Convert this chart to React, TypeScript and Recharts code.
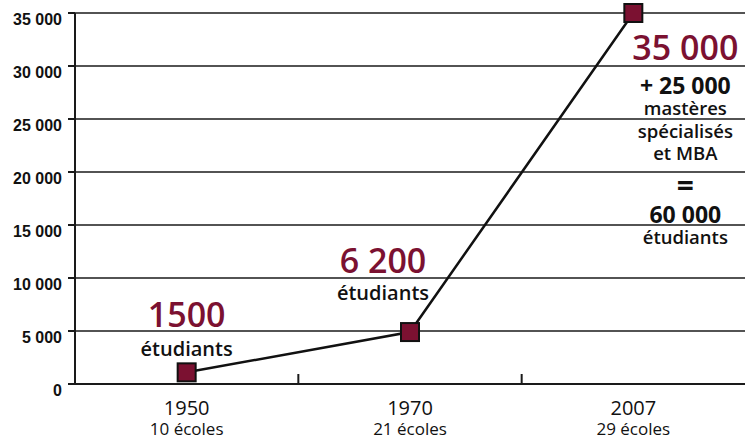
import { CartesianGrid, Line, LineChart, XAxis, YAxis } from "recharts"

const years = ["1950", "1970", "2007"]
const schools = ["10 écoles", "21 écoles", "29 écoles"]
const students = [1100, 4900, 35000]
const yTicks = [0, 5000, 10000, 15000, 20000, 25000, 30000, 35000]
const headlines = ["1500", "6 200", "35 000"]
const notes = [
  ["étudiants"],
  ["étudiants"],
  ["+ 25 000", "mastères", "spécialisés", "et MBA", "=", "60 000", "étudiants"],
]

const data = years.map((year, i) => ({ year, students: students[i] }))

// separator ticks between the year bands, on an index axis spanning [0, n-1]
const n = years.length
const bandEdges = years.slice(1).map((_, k) => ((k + 1) * (n - 1)) / n)

const MAROON = "#7b1131"
const INK = "#1a1a1a"
const SANS = "'Open Sans', 'DejaVu Sans', sans-serif"

// where the annotation text sits relative to each marker (dx, baseline dy)
const headPos = [
  { dx: 0, dy: -45 },
  { dx: -27, dy: -59 },
  { dx: 52, dy: 47 },
]
const noteLayout = [
  [{ dy: -16, size: 20, weight: 600 }],
  [{ dy: -32, size: 20, weight: 600 }],
  [
    { dy: 81, size: 23, weight: 700 },
    { dy: 102, size: 18.5, weight: 600 },
    { dy: 125, size: 18.5, weight: 600 },
    { dy: 147, size: 18.5, weight: 600 },
    { dy: 183, size: 30, weight: 700 },
    { dy: 210, size: 23, weight: 700 },
    { dy: 231, size: 18.5, weight: 600 },
  ],
]

const fmt = (v: number) => String(v).replace(/\B(?=(\d{3})+(?!\d))/g, " ")

function Marker(props: any) {
  const { cx, cy, index } = props
  const h = headPos[index]
  return (
    <g key={`m-${index}`}>
      <rect x={cx - 9} y={cy - 9} width={18} height={18} fill={MAROON} stroke="#111" strokeWidth={2} />
      <text
        x={cx + h.dx}
        y={cy + h.dy}
        textAnchor="middle"
        fontFamily={SANS}
        fontSize={34}
        fontWeight={600}
        fill={MAROON}
      >
        {headlines[index]}
      </text>
      {notes[index].map((line, j) => {
        const l = noteLayout[index][j]
        return (
          <text
            key={j}
            x={cx + h.dx}
            y={cy + l.dy}
            textAnchor="middle"
            fontFamily={SANS}
            fontSize={l.size}
            fontWeight={l.weight}
            fill="#111"
          >
            {line}
          </text>
        )
      })}
    </g>
  )
}

function YearTick(props: any) {
  const { x, y, payload } = props
  return (
    <g>
      <text x={x} y={y + 31} textAnchor="middle" fontFamily={SANS} fontSize={20} fontWeight={500} fill="#111">
        {payload.value}
      </text>
      <text x={x} y={y + 51} textAnchor="middle" fontFamily={SANS} fontSize={17} fontWeight={500} fill="#111">
        {schools[payload.index]}
      </text>
    </g>
  )
}

function ValueTick(props: any) {
  const { x, y, payload } = props
  return (
    <text
      x={x}
      y={y + 12}
      textAnchor="end"
      fontFamily="'Liberation Sans', Arial, sans-serif"
      fontSize={16}
      fontWeight={700}
      fill="#111"
    >
      {fmt(payload.value)}
    </text>
  )
}

const NoLabel = () => <g />

export default function App() {
  return (
    <div style={{ position: "absolute", left: 0, top: 0, background: "#fff" }}>
      <LineChart width={745} height={439} data={data} margin={{ top: 13, right: 0, bottom: 0, left: 0 }}>
        <CartesianGrid vertical={false} stroke={INK} strokeWidth={1.5} />
        <XAxis
          xAxisId="edges"
          type="number"
          domain={[0, n - 1]}
          allowDataOverflow
          ticks={bandEdges}
          interval={0}
          mirror
          height={1}
          tick={<NoLabel />}
          tickSize={10}
          tickLine={{ stroke: INK, strokeWidth: 2 }}
          axisLine={false}
        />
        <XAxis
          dataKey="year"
          scale="band"
          height={55}
          tick={<YearTick />}
          tickLine={false}
          tickSize={0}
          tickMargin={0}
          axisLine={{ stroke: INK, strokeWidth: 2 }}
          interval={0}
        />
        <YAxis
          width={75}
          domain={[0, 35000]}
          ticks={yTicks}
          interval={0}
          tickSize={7}
          tickMargin={6}
          tick={<ValueTick />}
          tickLine={{ stroke: INK, strokeWidth: 2 }}
          axisLine={{ stroke: INK, strokeWidth: 2 }}
        />
        <Line
          dataKey="students"
          stroke="#111"
          strokeWidth={2.5}
          dot={(p: any) => <Marker {...p} />}
          activeDot={false}
          isAnimationActive={false}
        />
      </LineChart>
    </div>
  )
}
